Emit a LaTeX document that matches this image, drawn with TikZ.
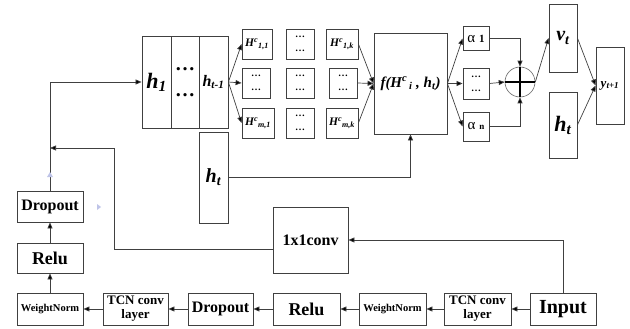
\documentclass[tikz,border=0pt]{standalone}
\usepackage{fontspec}
\setmainfont{Liberation Serif}
\usetikzlibrary{arrows.meta}
\begin{document}
\begin{tikzpicture}[x=1pt,y=-1pt,
  bx/.style={draw=black!75,line width=0.8pt,inner sep=0pt,align=center,font=\bfseries},
  arr/.style={draw=black!75,line width=0.7pt,-{Triangle[length=6pt,width=5pt,fill=black]}},
  ln/.style={draw=black!75,line width=0.7pt},
  fs/.style={font=\fontsize{#1}{#1}\selectfont\bfseries},
  dotsx/.style={font=\fontsize{10}{12}\selectfont\bfseries}
]
\useasboundingbox (0,0) rectangle (630,329);
% top left stacked block
\node[bx,minimum width=29,minimum height=92,font=\fontsize{22}{24}\selectfont\bfseries\itshape] (h1) at (156.5,82) {h\textsubscript{1}};
\node[bx,minimum width=28,minimum height=92,font=\fontsize{20}{14}\selectfont\bfseries] (hd) at (185,82) {…\\[12pt]…};
\node[bx,minimum width=29,minimum height=92,font=\fontsize{16}{18}\selectfont\bfseries\itshape] (htm) at (213.5,82) {h\textsubscript{t-1}};
\node[bx,minimum width=29,minimum height=91,font=\fontsize{20}{22}\selectfont\bfseries\itshape] (htb) at (213.5,177.5) {h\textsubscript{t}};
% H grid
\tikzset{hl/.style={bx,minimum height=30,font=\fontsize{11.5}{12}\selectfont\bfseries\itshape},
         hdt/.style={bx,minimum height=30,font=\fontsize{10}{8}\selectfont\bfseries}}
\node[hl,minimum width=30] (H11) at (257,44) {H\textsuperscript{c}\textsubscript{1,1}};
\node[hdt,minimum width=28] (H21) at (256,83) {…\\[6pt]…};
\node[hl,minimum width=32] (H31) at (258,123) {H\textsuperscript{c}\textsubscript{\textit{m},1}};
\node[hdt,minimum width=28] (H12) at (300,44) {…\\[6pt]…};
\node[hdt,minimum width=28] (H22) at (300,83) {…\\[6pt]…};
\node[hdt,minimum width=28] (H32) at (300,123) {…\\[6pt]…};
\node[hl,minimum width=32] (H13) at (342,44) {H\textsuperscript{c}\textsubscript{1,\textit{k}}};
\node[hdt,minimum width=28] (H23) at (343,83) {…\\[6pt]…};
\node[hl,minimum width=32] (H33) at (342,123) {H\textsuperscript{c}\textsubscript{\textit{m,k}}};
% f box
\node[bx,minimum width=73,minimum height=101,font=\fontsize{15}{16}\selectfont\bfseries\itshape] (f) at (410.5,83.5) {f(H\textsuperscript{c}\textsubscript{\,\textit{i}}\ , h\textsubscript{t})};
% alpha boxes
\node[bx,minimum width=26,minimum height=24,font=\fontsize{15}{14}\selectfont] (a1) at (476,38.5) {\mdseries α\ \textbf{\fontsize{11}{12}\selectfont 1}};
\node[hdt,minimum width=26,minimum height=31] (a2) at (476,83.5) {…\\[6pt]…};
\node[bx,minimum width=26,minimum height=29,font=\fontsize{15}{14}\selectfont] (a3) at (476,126.5) {\mdseries α\ \textbf{\fontsize{9}{10}\selectfont n}};
% circle
\node[draw=black!60,line width=0.6pt,circle,minimum size=30,inner sep=0pt] (c) at (520,82) {};
\draw[line width=2.6pt,black] (c.west) -- (c.east) (c.north) -- (c.south);
% right boxes
\node[bx,minimum width=28,minimum height=68,font=\fontsize{20}{22}\selectfont\bfseries\itshape] (vt) at (563,38) {v\textsubscript{t}};
\node[bx,minimum width=28,minimum height=66,font=\fontsize{22}{24}\selectfont\bfseries\itshape] (htr) at (563,125) {h\textsubscript{t}};
\node[bx,minimum width=28,minimum height=77,font=\fontsize{13}{14}\selectfont\bfseries\itshape] (y) at (610,85.5) {y\textsubscript{t+1}};
% TCN block
\node[bx,minimum width=66,minimum height=31,fs=16] (dl) at (50,206.5) {Dropout};
\node[bx,minimum width=66,minimum height=30,fs=18] (rl) at (50,258) {Relu};
\node[bx,minimum width=66,minimum height=32,fs=10.5] (wn1) at (50,309) {WeightNorm};
\node[bx,minimum width=65,minimum height=32,font=\fontsize{13}{14}\selectfont\bfseries] (tc1) at (135.5,309) {TCN conv\\layer};
\node[bx,minimum width=65,minimum height=32,fs=16] (dr2) at (220.5,309) {Dropout};
\node[bx,minimum width=67,minimum height=32,fs=18] (rl2) at (306.5,309) {Relu};
\node[bx,minimum width=67,minimum height=32,fs=10.5] (wn2) at (392.5,309) {WeightNorm};
\node[bx,minimum width=67,minimum height=32,font=\fontsize{13}{14}\selectfont\bfseries] (tc2) at (477.5,309) {TCN conv\\layer};
\node[bx,minimum width=66,minimum height=32,fs=20] (inp) at (563,309) {Input};
\node[bx,minimum width=75,minimum height=66,fs=16] (conv) at (310.5,240) {1x1conv};
% connectors bottom
\draw[arr] (inp) -- (tc2);
\draw[arr] (tc2) -- (wn2);
\draw[arr] (wn2) -- (rl2);
\draw[arr] (rl2) -- (dr2);
\draw[arr] (dr2) -- (tc1);
\draw[arr] (tc1) -- (wn1);
\draw[arr] (wn1) -- (rl);
\draw[arr] (rl) -- (dl);
\draw[arr] (inp.north) |- (conv.east);
\draw[arr] (dl.north) |- (h1.west);
\coordinate (j) at (50,148);
\draw[arr] ([yshift=-9pt]conv.west) -| (114,148) -- (j);
% connectors top
\draw[arr] (htm.east) -- (H11.west);
\draw[arr] (htm.east) -- (H21.west);
\draw[arr] (htm.east) -- (H31.west);
\draw[arr] (H13.east) -- (f.west);
\draw[arr] (H23.east) -- (f.west);
\draw[arr] (H33.east) -- (f.west);
\draw[arr] (htb.east) -| (f.south);
\draw[arr] (f.east) -- (a1.west);
\draw[arr] (f.east) -- (a2.west);
\draw[arr] (f.east) -- (a3.west);
\draw[arr] (a1.east) -| (c.north);
\draw[arr] (a2.east) -- (c.west);
\draw[arr] (a3.east) -| (c.south);
\draw[arr] (c.east) -- (vt.west);
\draw[arr] (vt.east) -- (y.west);
\draw[arr] (htr.east) -- (y.west);
% faint blue marks
\fill[cyan!30!blue!25] (47,177) -- (53,177) -- (50,172) -- cycle;
\fill[cyan!30!blue!25] (97,204) -- (97,210) -- (101,207) -- cycle;
\end{tikzpicture}
\end{document}
